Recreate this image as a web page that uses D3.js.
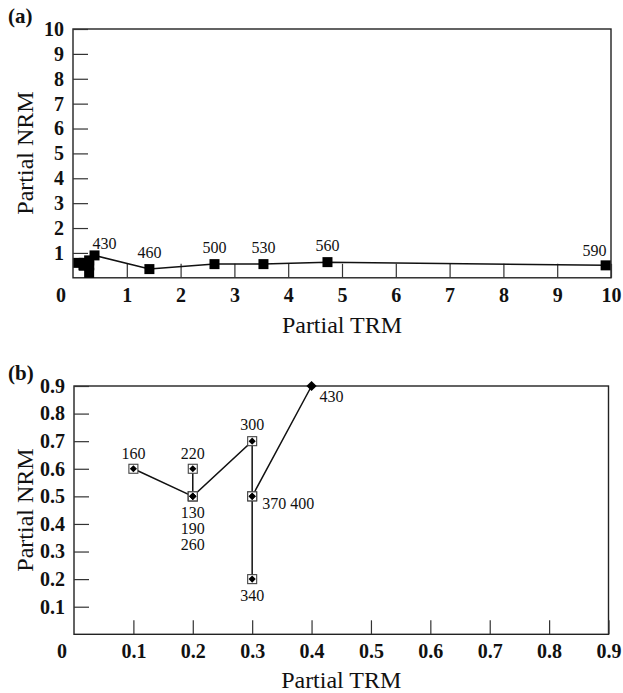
<!DOCTYPE html>
<html>
<head>
<meta charset="utf-8">
<script src="https://cdn.jsdelivr.net/npm/d3@7"></script>
<style>
  body { margin: 0; background: #fff; }
  svg { display: block; font-family: "Liberation Serif", "Times New Roman", serif; }
  .tick text { font-size: 20px; font-weight: bold; fill: #111; font-family: "Liberation Serif", serif; }
  .tick line { stroke: #333; stroke-width: 1.2; }
  .title { font-size: 24px; fill: #111; }
  .pt-label { font-size: 16px; fill: #111; }
</style>
</head>
<body>
<svg id="chart" width="623" height="693"></svg>
<script>
// heating steps (deg C) and the partial TRM / NRM
const temps = [130, 160, 190, 220, 260, 300, 340, 370, 400, 430, 460, 500, 530, 560, 590];
const trm   = [0.2, 0.1, 0.2, 0.2, 0.2, 0.3, 0.3, 0.3, 0.3, 0.4, 1.42, 2.63, 3.54, 4.73, 9.9];
const nrm   = [0.5, 0.6, 0.5, 0.6, 0.5, 0.7, 0.2, 0.5, 0.5, 0.9, 0.35, 0.55, 0.55, 0.63, 0.5];

const ticksA = [1, 2, 3, 4, 5, 6, 7, 8, 9, 10];
const ticksB = [0.1, 0.2, 0.3, 0.4, 0.5, 0.6, 0.7, 0.8, 0.9];

// point labels for each panel
const labelsA = ['430', '460', '500', '530', '560', '590'];
const labelsB = ['160', '220', '300', '130\n190\n260', '340', '370 400', '430'];

const points = temps.map((t, i) => ({ t, x: trm[i], y: nrm[i] }));
const byTemp = t => points.find(p => p.t === t);

const svg = d3.select('#chart');

function panel(opts) {
  const { x, y, ticks, fmt, letter, letterY, titleY, yTitleCenter } = opts;
  const g = svg.append('g');

  // frame
  g.append('rect')
    .attr('x', x.range()[0]).attr('y', y.range()[1])
    .attr('width', x.range()[1] - x.range()[0])
    .attr('height', y.range()[0] - y.range()[1])
    .attr('fill', 'none').attr('stroke', '#222').attr('stroke-width', 1.4);

  g.append('g')
    .attr('transform', `translate(0,${y.range()[0]})`)
    .call(d3.axisBottom(x).tickValues(ticks).tickSize(-14).tickPadding(10).tickFormat(fmt))
    .attr('font-family', null).attr('font-size', null)
    .call(a => a.select('.domain').remove());

  g.append('g')
    .attr('transform', `translate(${x.range()[0]},0)`)
    .call(d3.axisLeft(y).tickValues(ticks).tickSize(-15).tickPadding(9).tickFormat(fmt))
    .attr('font-family', null).attr('font-size', null)
    .call(a => a.select('.domain').remove());

  // shared origin label
  g.append('text')
    .attr('x', x(0) - 12).attr('y', y(0) + 24)
    .attr('text-anchor', 'middle')
    .attr('font-size', 20).attr('font-weight', 'bold').attr('fill', '#111')
    .text('0');

  g.append('text').attr('class', 'title')
    .attr('x', (x.range()[0] + x.range()[1]) / 2).attr('y', titleY)
    .attr('text-anchor', 'middle')
    .text('Partial TRM');

  g.append('text').attr('class', 'title')
    .attr('transform', `translate(33,${yTitleCenter}) rotate(-90)`)
    .attr('text-anchor', 'middle')
    .text('Partial NRM');

  g.append('text')
    .attr('x', 8).attr('y', letterY)
    .attr('font-size', 21).attr('font-weight', 'bold').attr('fill', '#111')
    .text(letter);

  return g;
}

// ---------- panel (a) ----------
const xA = d3.scaleLinear().domain([0, 10]).range([73, 611]);
const yA = d3.scaleLinear().domain([0, 10]).range([277.8, 29]);
const gA = panel({ x: xA, y: yA, ticks: ticksA, fmt: d3.format('d'),
  letter: '(a)', letterY: 23, titleY: 333, yTitleCenter: 153 });

const line = (xs, ys) => d3.line().x(d => xs(d.x)).y(d => ys(d.y));

gA.append('path')
  .datum(points)
  .attr('d', line(xA, yA))
  .attr('fill', 'none').attr('stroke', '#111').attr('stroke-width', 1.5);

gA.selectAll('rect.mk')
  .data(points)
  .join('rect').attr('class', 'mk')
  .attr('x', d => xA(d.x) - 5).attr('y', d => yA(d.y) - 5)
  .attr('width', 10).attr('height', 10)
  .attr('fill', '#000');

const placeA = { '430': [-2, -6, 'start'], '590': [1, -9, 'end'] };
gA.selectAll('text.pt-label')
  .data(labelsA)
  .join('text').attr('class', 'pt-label')
  .each(function (s) {
    const p = byTemp(+s);
    const [dx, dy, anchor] = placeA[s] || [0, -11, 'middle'];
    d3.select(this)
      .attr('x', xA(p.x) + dx).attr('y', yA(p.y) + dy)
      .attr('text-anchor', anchor)
      .text(s);
  });

// ---------- panel (b) ----------
const xB = d3.scaleLinear().domain([0, 0.9]).range([74, 608.5]);
const yB = d3.scaleLinear().domain([0, 0.9]).range([634.3, 386]);
const gB = panel({ x: xB, y: yB, ticks: ticksB, fmt: d3.format('.1f'),
  letter: '(b)', letterY: 380, titleY: 688, yTitleCenter: 510 });

const early = points.filter(p => p.t <= 430);
gB.append('path')
  .datum(early)
  .attr('d', line(xB, yB))
  .attr('fill', 'none').attr('stroke', '#111').attr('stroke-width', 1.5);

// a diamond is a square turned by 45 degrees
const square = d3.symbol().type(d3.symbolSquare);

const boxed = early.filter(p => p.t < 430);
gB.selectAll('rect.box')
  .data(boxed)
  .join('rect').attr('class', 'box')
  .attr('x', d => xB(d.x) - 4.5).attr('y', d => yB(d.y) - 4.5)
  .attr('width', 9).attr('height', 9)
  .attr('fill', '#fff').attr('stroke', '#444').attr('stroke-width', 1.1);

gB.selectAll('path.dia')
  .data(early)
  .join('path').attr('class', 'dia')
  .attr('transform', d => `translate(${xB(d.x)},${yB(d.y)}) rotate(45)`)
  .attr('d', d => square.size(d.t === 430 ? 52 : 26)())
  .attr('fill', '#000');

const placeB = {
  '160': [0, -10, 'middle'], '220': [0, -10, 'middle'], '300': [0, -11, 'middle'],
  '130\n190\n260': [0, 22, 'middle'], '340': [0, 22, 'middle'],
  '370 400': [10, 13, 'start'], '430': [8, 16, 'start']
};
gB.selectAll('text.pt-label')
  .data(labelsB)
  .join('text').attr('class', 'pt-label')
  .each(function (s) {
    const rows = s.split('\n');
    const p = byTemp(+rows[0].split(' ')[0]);
    const [dx, dy, anchor] = placeB[s];
    const t = d3.select(this)
      .attr('x', xB(p.x) + dx).attr('y', yB(p.y) + dy)
      .attr('text-anchor', anchor);
    rows.forEach((r, i) => {
      t.append('tspan')
        .attr('x', xB(p.x) + dx)
        .attr('dy', i === 0 ? 0 : 16)
        .text(r);
    });
  });
</script>
</body>
</html>
